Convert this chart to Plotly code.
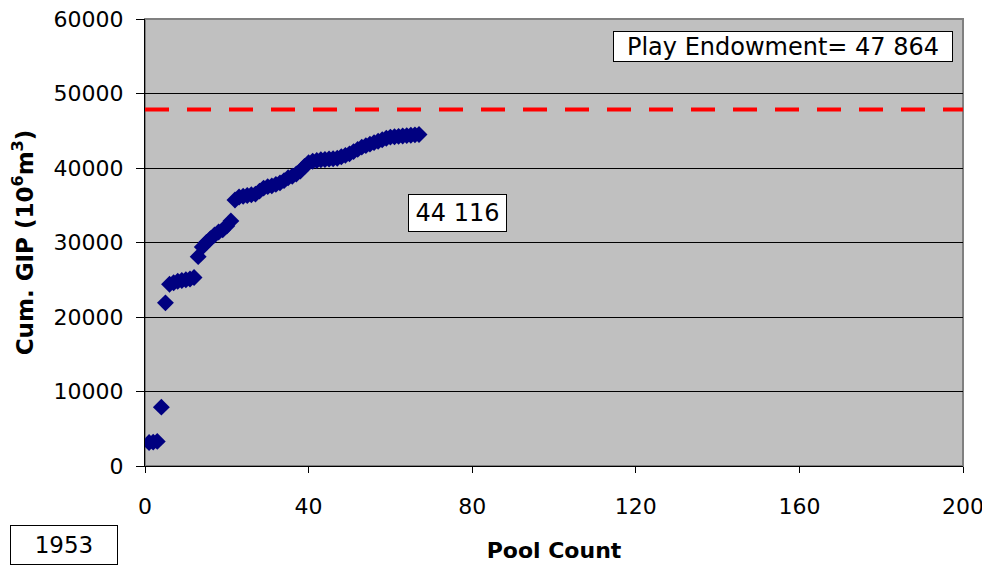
import plotly.graph_objects as go

pool_count = list(range(1, 68))
cum_gip = [3150, 3200, 3300, 7900, 21900, 24400, 24600, 24800, 24900, 25000,
           25100, 25300, 28100, 29400, 30000, 30500, 31000, 31400, 31700, 32200,
           32900, 35700, 36100, 36200, 36300, 36400, 36500, 36900, 37300, 37500,
           37600, 37800, 38000, 38300, 38700, 38900, 39200, 39600, 40200, 40700,
           40900, 41000, 41100, 41150, 41200, 41250, 41300, 41500, 41700, 41900,
           42200, 42500, 42800, 43000, 43200, 43400, 43600, 43800, 44000, 44150,
           44200, 44250, 44300, 44350, 44400, 44450, 44500]
endowment = 47864
x_ticks = [0, 40, 80, 120, 160, 200]
y_ticks = [0, 10000, 20000, 30000, 40000, 50000, 60000]

FONT = "DejaVu Sans, Liberation Sans, Arial, sans-serif"

fig = go.Figure()
fig.add_trace(go.Scatter(
    x=[0, 200], y=[endowment, endowment], mode="lines",
    line=dict(color="#FF0000", width=4, dash="24px,18px"),
    hoverinfo="skip", showlegend=False))
fig.add_trace(go.Scatter(
    x=pool_count, y=cum_gip, mode="markers",
    marker=dict(symbol="diamond", size=13, color="#000080",
                line=dict(width=0)),
    showlegend=False))

fig.update_layout(
    width=982, height=562,
    margin=dict(l=137, r=27, t=11, b=104),
    paper_bgcolor="white", plot_bgcolor="#C0C0C0",
    font=dict(family=FONT, size=22, color="black"),
    xaxis=dict(range=[0, 200], tickvals=x_ticks, ticktext=[str(v) for v in x_ticks],
               showgrid=False, zeroline=False, automargin=False,
               showline=True, linecolor="black", linewidth=1,
               ticks="outside", ticklen=6, tickcolor="black",
               ticklabelstandoff=15, ticklabeloverflow="allow",
               tickfont=dict(family=FONT, size=22),
               title=dict(text="<b>Pool Count</b>", font=dict(family=FONT, size=22),
                          standoff=24)),
    yaxis=dict(range=[0, 60000], tickvals=y_ticks, ticktext=[str(v) for v in y_ticks],
               showgrid=True, gridcolor="#000000", gridwidth=1, zeroline=False,
               automargin=False,
               showline=True, linecolor="black", linewidth=1,
               ticks="outside", ticklen=8, tickcolor="black",
               ticklabelstandoff=8, ticklabeloverflow="allow",
               tickfont=dict(family=FONT, size=22),
               title=dict(text="<b>Cum. GIP (10<sup>6</sup>m<sup>3</sup>)</b>",
                          font=dict(family=FONT, size=23), standoff=22)),
    shapes=[dict(type="rect", xref="paper", yref="paper", x0=0, x1=1, y0=0, y1=1,
                 line=dict(color="#808080", width=2), layer="below")],
    annotations=[
        dict(x=76.3, y=33900, xref="x", yref="y", text="44 116", showarrow=False,
             font=dict(family=FONT, size=24), bgcolor="white",
             bordercolor="black", borderwidth=1, width=95, height=34),
        dict(x=156, y=56340, xref="x", yref="y", text="Play Endowment= 47 864",
             showarrow=False, font=dict(family=FONT, size=24), bgcolor="white",
             bordercolor="black", borderwidth=1, width=336, height=27),
        dict(x=(64 - 145) / 818, y=(466 - 545) / 447, xref="paper", yref="paper",
             xanchor="center", yanchor="middle",
             text="1953", showarrow=False, font=dict(family=FONT, size=23),
             bgcolor="white", bordercolor="black", borderwidth=1,
             width=104, height=36),
    ],
)

fig.write_html("out.html")
